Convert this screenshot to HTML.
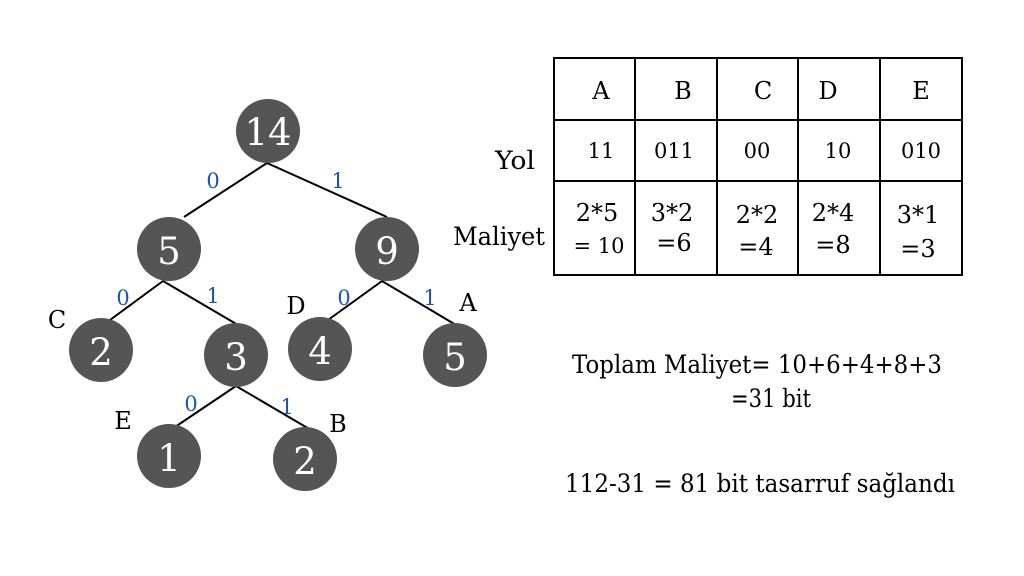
<!DOCTYPE html>
<html><head><style>
body{margin:0;background:#fff;}
svg{display:block}
text{font-family:"DejaVu Serif","Liberation Serif",serif;}
</style></head><body>
<svg width="1024" height="576" viewBox="0 0 1024 576">
<g stroke="#000" stroke-width="2">
<line x1="267" y1="163" x2="184" y2="217"/><line x1="267" y1="163" x2="387" y2="217"/>
<line x1="163" y1="281" x2="110" y2="320"/><line x1="163" y1="281" x2="238" y2="325"/>
<line x1="382" y1="281" x2="328" y2="320"/><line x1="382" y1="281" x2="456" y2="325"/>
<line x1="236" y1="386" x2="175" y2="427"/><line x1="236" y1="386" x2="311" y2="430"/>
</g>
<g fill="#555">
<circle cx="268" cy="131" r="32"/><circle cx="169" cy="249" r="32"/><circle cx="387" cy="249" r="32"/>
<circle cx="101" cy="350" r="32"/><circle cx="236" cy="355" r="32"/><circle cx="320" cy="349" r="32"/>
<circle cx="455" cy="355" r="32"/><circle cx="169" cy="456" r="32"/><circle cx="305" cy="459" r="32"/>
</g>
<g fill="#fff" font-size="37" text-anchor="middle">
<text x="268" y="145">14</text><text x="169" y="264">5</text><text x="387" y="264">9</text>
<text x="101" y="365">2</text><text x="236" y="370">3</text><text x="320" y="364">4</text>
<text x="455" y="370">5</text><text x="169" y="471">1</text><text x="305" y="474">2</text>
</g>
<g fill="#1a56b0" font-size="21" text-anchor="middle">
<text x="213" y="188">0</text><text x="338" y="188">1</text>
<text x="123" y="305">0</text><text x="213" y="303">1</text>
<text x="344" y="305">0</text><text x="430" y="305">1</text>
<text x="191" y="411">0</text><text x="287" y="414">1</text>
</g>
<g fill="#000" font-size="24" text-anchor="middle">
<text x="57" y="328">C</text><text x="296" y="314">D</text><text x="468" y="311">A</text>
<text x="123" y="429">E</text><text x="338" y="432">B</text>
</g>
<g stroke="#000" stroke-width="2" fill="none">
<rect x="554" y="58" width="408" height="217"/>
<line x1="554" y1="120" x2="962" y2="120"/><line x1="554" y1="181" x2="962" y2="181"/>
<line x1="635" y1="58" x2="635" y2="275"/><line x1="717" y1="58" x2="717" y2="275"/>
<line x1="798" y1="58" x2="798" y2="275"/><line x1="880" y1="58" x2="880" y2="275"/>
</g>
<g fill="#000" font-size="24" text-anchor="middle">
<text x="601" y="99">A</text><text x="683" y="99">B</text><text x="763" y="99">C</text><text x="828" y="99">D</text><text x="921" y="99">E</text>
<text x="601" y="158" font-size="21">11</text><text x="674" y="158" font-size="21">011</text><text x="757" y="158" font-size="21">00</text><text x="838" y="158" font-size="21">10</text><text x="921" y="158" font-size="21">010</text>
<text x="597" y="221">2*5</text><text x="599" y="253" font-size="21">= 10</text>
<text x="672" y="221">3*2</text><text x="674" y="251">=6</text>
<text x="757" y="223">2*2</text><text x="756" y="255">=4</text>
<text x="833" y="221">2*4</text><text x="833" y="253">=8</text>
<text x="918" y="223">3*1</text><text x="918" y="257">=3</text>
</g>
<g fill="#000" font-size="25">
<text x="495" y="169" textLength="40" lengthAdjust="spacingAndGlyphs">Yol</text>
<text x="453" y="245" textLength="92" lengthAdjust="spacingAndGlyphs">Maliyet</text>
<text x="572" y="373" textLength="370" lengthAdjust="spacingAndGlyphs">Toplam Maliyet= 10+6+4+8+3</text>
<text x="731" y="407" textLength="80" lengthAdjust="spacingAndGlyphs">=31 bit</text>
<text x="565" y="492" textLength="390" lengthAdjust="spacingAndGlyphs">112-31 =  81 bit tasarruf sağlandı</text>
</g>
</svg>
</body></html>
